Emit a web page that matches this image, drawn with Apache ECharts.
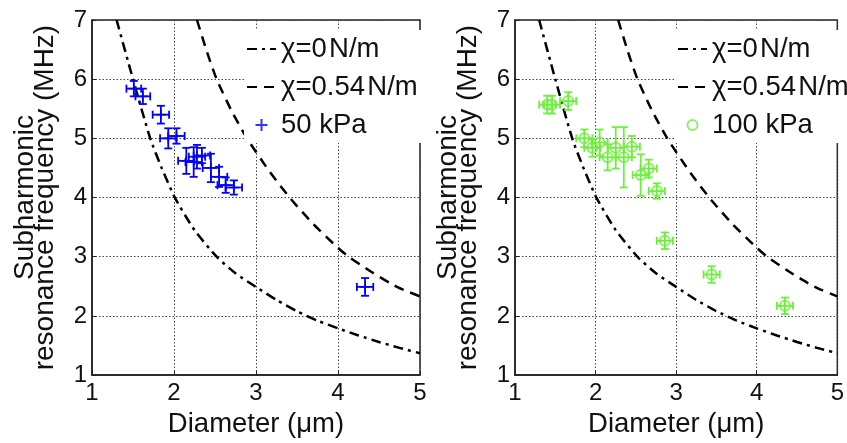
<!DOCTYPE html>
<html>
<head>
<meta charset="utf-8">
<script src="https://cdn.jsdelivr.net/npm/echarts@6/dist/echarts.min.js"></script>
<style>
  html, body { margin: 0; padding: 0; background: #fff; }
  #chart { width: 847px; height: 443px; }
</style>
</head>
<body>
<div id="chart"></div>
<script>
// Theoretical resonance curves (diameter in µm, frequency in MHz)
const curveNoShell = [[1.30, 7.0], [1.50, 6.0], [1.71, 5.0], [1.85, 4.5], [2.01, 4.0], [2.25, 3.45], [2.52, 3.0], [2.75, 2.72], [3.0, 2.49], [3.25, 2.27], [3.5, 2.08], [3.75, 1.92], [4.0, 1.79], [4.25, 1.67], [4.5, 1.56], [4.75, 1.46], [5.0, 1.37]];
const curveShell = [[2.28, 7.0], [2.40, 6.47], [2.52, 6.0], [2.70, 5.47], [2.89, 5.0], [3.15, 4.47], [3.41, 4.0], [3.70, 3.55], [4.0, 3.15], [4.13, 3.0], [4.40, 2.75], [4.64, 2.55], [4.80, 2.44], [5.0, 2.33]];

// Measured subharmonic resonance at 50 kPa
const diam50 = [1.51, 1.62, 1.84, 1.93, 2.03, 2.15, 2.24, 2.28, 2.34, 2.45, 2.55, 2.63, 2.73, 4.33];
const freq50 = [5.84, 5.71, 5.40, 5.00, 5.04, 4.62, 4.60, 4.69, 4.71, 4.50, 4.35, 4.21, 4.17, 2.49];
const diamErr50 = [0.09, 0.09, 0.10, 0.10, 0.10, 0.10, 0.10, 0.10, 0.10, 0.10, 0.10, 0.10, 0.10, 0.10];
const freqErr50 = [0.13, 0.13, 0.15, 0.17, 0.13, 0.22, 0.25, 0.20, 0.13, 0.24, 0.17, 0.13, 0.12, 0.15];

// Measured subharmonic resonance at 100 kPa
const diam100 = [1.40, 1.46, 1.66, 1.86, 1.96, 2.05, 2.15, 2.25, 2.35, 2.45, 2.56, 2.66, 2.76, 2.86, 3.44, 4.35];
const freq100 = [5.57, 5.57, 5.63, 5.00, 4.84, 4.93, 4.68, 4.84, 4.68, 4.86, 4.38, 4.49, 4.11, 3.27, 2.70, 2.17];
const diamErr100 = [0.10, 0.10, 0.10, 0.10, 0.10, 0.10, 0.10, 0.10, 0.10, 0.10, 0.10, 0.10, 0.10, 0.10, 0.10, 0.10];
const freqErr100 = [0.15, 0.15, 0.15, 0.15, 0.15, 0.22, 0.22, 0.35, 0.51, 0.18, 0.35, 0.15, 0.13, 0.14, 0.14, 0.14];

const nameNoShell = 'χ=0\u200AN/m';
const nameShell = 'χ=0.54\u200AN/m';
const name50 = '50 kPa';
const name100 = '100 kPa';

const FONT = '"Liberation Sans", Arial, Helvetica, sans-serif';
const BLUE = '#0000ff';
const GREEN = '#6cf03a';

const zip = (a, b) => a.map((v, i) => [v, b[i]]);
const zip4 = (a, b, c, d) => a.map((v, i) => [v, b[i], c[i], d[i]]);

function errorBarRenderer(color) {
  return function (params, api) {
    const x = api.value(0), y = api.value(1), dx = api.value(2), dy = api.value(3);
    const c = api.coord([x, y]);
    const l = api.coord([x - dx, y]);
    const r = api.coord([x + dx, y]);
    const t = api.coord([x, y + dy]);
    const b = api.coord([x, y - dy]);
    const cap = 4;
    const style = { stroke: color, lineWidth: 1.8, fill: null };
    const seg = (x1, y1, x2, y2) => ({ type: 'line', shape: { x1, y1, x2, y2 }, style });
    return {
      type: 'group',
      children: [
        seg(l[0], c[1], r[0], c[1]),
        seg(l[0], c[1] - cap, l[0], c[1] + cap),
        seg(r[0], c[1] - cap, r[0], c[1] + cap),
        seg(c[0], t[1], c[0], b[1]),
        seg(c[0] - cap, t[1], c[0] + cap, t[1]),
        seg(c[0] - cap, b[1], c[0] + cap, b[1])
      ]
    };
  };
}

function xAxisFor(gridIndex) {
  return {
    gridIndex, type: 'value', min: 1, max: 5, interval: 1,
    name: 'Diameter (μm)', nameLocation: 'middle', nameGap: 28,
    nameTextStyle: { fontFamily: FONT, fontSize: 27.5, color: '#111' },
    axisLine: { lineStyle: { color: '#222', width: 1.5 } },
    axisTick: { inside: true, length: 4, lineStyle: { color: '#222' } },
    axisLabel: { fontFamily: FONT, fontSize: 24, color: '#111', margin: 6 },
    splitLine: { show: true, lineStyle: { color: '#444', width: 1, type: [1.5, 2] } }
  };
}

function yAxisFor(gridIndex) {
  return {
    gridIndex, type: 'value', min: 1, max: 7, interval: 1,
    name: 'Subharmonic\nresonance frequency (MHz)', nameLocation: 'middle', nameGap: 37, nameRotate: 90,
    nameTextStyle: { fontFamily: FONT, fontSize: 28, color: '#111', lineHeight: 20 },
    axisLine: { lineStyle: { color: '#222', width: 1.5 } },
    axisTick: { inside: true, length: 4, lineStyle: { color: '#222' } },
    axisLabel: { fontFamily: FONT, fontSize: 24, color: '#111', margin: 5 },
    splitLine: { show: true, lineStyle: { color: '#444', width: 1, type: [1.5, 2] } }
  };
}

function curveSeries(name, data, idx, dash) {
  return {
    name, type: 'line', xAxisIndex: idx, yAxisIndex: idx, data,
    symbol: 'none', smooth: 0.2, silent: true,
    itemStyle: { color: '#000' },
    lineStyle: { color: '#000', width: 2.5, type: dash }, z: 3
  };
}

const DASH_DOT = [10, 5, 3, 5];
const DASHED = [10, 7];
const PLUS = 'path://M5,0H7V5H12V7H7V12H5V7H0V5H5Z';

function legendFor(left, names, itemHeight) {
  return {
    orient: 'vertical', left, top: 30, itemWidth: 29, itemHeight, itemGap: 10,
    padding: [5, 6, 4, 2], backgroundColor: '#fff',
    textStyle: { fontFamily: FONT, fontSize: 27.5, color: '#111', lineHeight: 26.5 },
    data: [
      { name: names[0], itemStyle: { opacity: 0 } },
      { name: names[1], itemStyle: { opacity: 0 } },
      { name: names[2] }
    ],
    selectedMode: false
  };
}

const option = {
  animation: false,
  backgroundColor: '#fff',
  grid: [
    { left: 92, top: 20, width: 328, height: 362, show: true, borderColor: '#222', borderWidth: 1.5, backgroundColor: 'transparent' },
    { left: 515, top: 20, width: 330, height: 362, show: true, borderColor: '#222', borderWidth: 1.5, backgroundColor: 'transparent' }
  ],
  xAxis: [xAxisFor(0), xAxisFor(1)],
  yAxis: [yAxisFor(0), yAxisFor(1)],
  legend: [
    legendFor(244, [nameNoShell, nameShell, name50], 12),
    legendFor(675, [nameNoShell, nameShell, name100], 10)
  ],
  series: [
    curveSeries(nameNoShell, curveNoShell, 0, DASH_DOT),
    curveSeries(nameShell, curveShell, 0, DASHED),
    {
      type: 'custom', xAxisIndex: 0, yAxisIndex: 0, silent: true, z: 4,
      renderItem: errorBarRenderer(BLUE), data: zip4(diam50, freq50, diamErr50, freqErr50)
    },
    {
      name: name50, type: 'scatter', xAxisIndex: 0, yAxisIndex: 0, silent: true, z: 5,
      symbol: PLUS, symbolSize: 10, itemStyle: { color: BLUE }, data: zip(diam50, freq50)
    },
    curveSeries(nameNoShell, curveNoShell, 1, DASH_DOT),
    curveSeries(nameShell, curveShell, 1, DASHED),
    {
      type: 'custom', xAxisIndex: 1, yAxisIndex: 1, silent: true, z: 4,
      renderItem: errorBarRenderer(GREEN), data: zip4(diam100, freq100, diamErr100, freqErr100)
    },
    {
      name: name100, type: 'scatter', xAxisIndex: 1, yAxisIndex: 1, silent: true, z: 5,
      symbol: 'circle', symbolSize: 10,
      itemStyle: { color: 'rgba(0,0,0,0)', borderColor: GREEN, borderWidth: 2 },
      data: zip(diam100, freq100)
    }
  ]
};

const chart = echarts.init(document.getElementById('chart'), null, { renderer: 'canvas' });
chart.setOption(option);
</script>
</body>
</html>
